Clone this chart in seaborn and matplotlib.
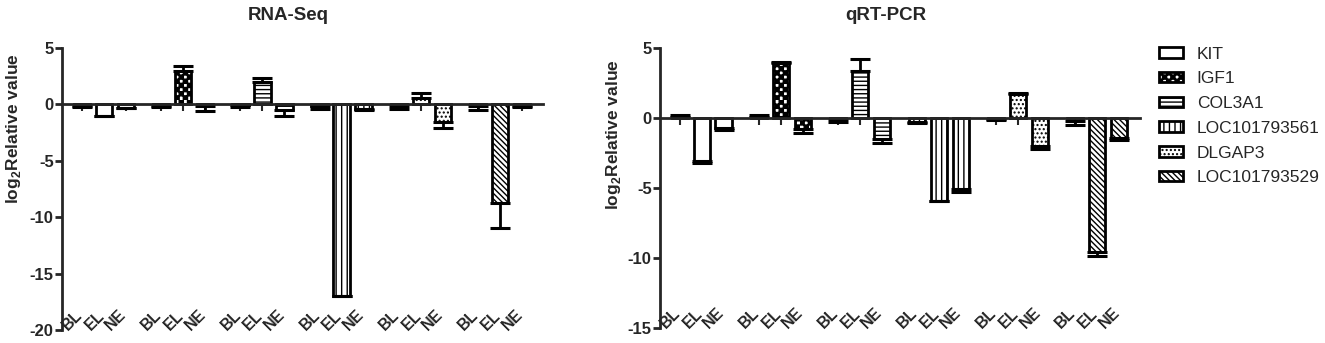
import warnings
import numpy as np
import pandas as pd
import seaborn as sns
import matplotlib.pyplot as plt
import matplotlib.hatch as mhatch
from matplotlib.path import Path
from matplotlib.patches import Patch

warnings.filterwarnings('ignore')

genes = ['KIT', 'IGF1', 'COL3A1', 'LOC101793561', 'DLGAP3', 'LOC101793529']
stages = ['BL', 'EL', 'NE']

# mean log2 relative values per gene (BL, EL, NE)
rnaseq_mean = [[-0.10, -1.00, -0.30],
               [-0.10, 3.00, -0.10],
               [-0.05, 2.00, -0.50],
               [-0.10, -17.00, -0.40],
               [-0.10, 0.60, -1.60],
               [-0.10, -8.70, -0.15]]
rnaseq_err = [[0.15, 0.05, 0.05],
              [0.15, 0.40, 0.45],
              [0.15, 0.35, 0.55],
              [0.35, 0.02, 0.10],
              [0.35, 0.40, 0.50],
              [0.40, 2.30, 0.10]]

qpcr_mean = [[0.10, -3.10, -0.70],
             [0.10, 3.90, -0.80],
             [-0.10, 3.35, -1.50],
             [-0.25, -5.90, -5.05],
             [-0.05, 1.70, -2.00],
             [-0.20, -9.60, -1.40]]
qpcr_err = [[0.08, 0.12, 0.15],
            [0.08, 0.08, 0.25],
            [0.20, 0.85, 0.30],
            [0.10, 0.05, 0.20],
            [0.08, 0.06, 0.20],
            [0.28, 0.25, 0.20]]

# 'c' = checkerboard (custom pattern below)
hatches = ['', 'c', '----', '|||', '....', '\\\\\\\\\\\\']


class Checker(mhatch.HatchPatternBase):
    """Filled checkerboard squares, drawn for hatch strings containing 'c'."""

    def __init__(self, hatch, density):
        self.n = 24 if 'c' in hatch else 0
        self.cells = [(i, j) for i in range(self.n) for j in range(self.n)
                      if (i + j) % 2 == 0]
        self.num_vertices = 5 * len(self.cells)
        self.filled = True

    def set_vertices_and_codes(self, vertices, codes):
        s = 1.0 / self.n
        for k, (i, j) in enumerate(self.cells):
            x0, y0 = i * s, j * s
            vertices[5 * k:5 * k + 5] = [(x0, y0), (x0 + s, y0),
                                         (x0 + s, y0 + s), (x0, y0 + s),
                                         (x0, y0)]
            codes[5 * k:5 * k + 5] = [Path.MOVETO, Path.LINETO, Path.LINETO,
                                      Path.LINETO, Path.CLOSEPOLY]


mhatch._hatch_types.append(Checker)

sns.set_style('ticks')
plt.rcParams['font.family'] = ['Liberation Sans', 'DejaVu Sans']
plt.rcParams['axes.unicode_minus'] = False
plt.rcParams['mathtext.fontset'] = 'custom'
plt.rcParams['mathtext.rm'] = 'Liberation Sans:bold'
plt.rcParams['mathtext.bf'] = 'Liberation Sans:bold'
plt.rcParams['hatch.linewidth'] = 1.0


def make_frame(means, errs):
    rows = []
    for gi, g in enumerate(genes):
        for si, s in enumerate(stages):
            rows.append({'gene': g, 'stage': s, 'pos': gi * 3.6 + si,
                         'value': means[gi][si], 'err': errs[gi][si]})
    return pd.DataFrame(rows)


def draw_panel(ax, df, title, ylim, yticks, label_x, label_y):
    sns.barplot(data=df, x='pos', y='value', hue='gene', hue_order=genes,
                native_scale=True, dodge=False, width=0.75, errorbar=None,
                palette=['white'] * len(genes), edgecolor='black',
                linewidth=2, legend=False, ax=ax)
    for cont, h in zip(ax.containers, hatches):
        for bar in cont:
            bar.set_hatch(h)

    lower = np.where(df['value'] < 0, df['err'], 0)
    upper = np.where(df['value'] >= 0, df['err'], 0)
    ax.errorbar(df['pos'], df['value'], yerr=[lower, upper], fmt='none',
                ecolor='black', elinewidth=2, capsize=7, capthick=2.2)

    ax.set_xlim(-0.9, 20.95)
    ax.set_ylim(*ylim)
    ax.set_yticks(yticks)
    ax.set_yticklabels([str(t) for t in yticks])
    ax.spines['right'].set_visible(False)
    ax.spines['top'].set_visible(False)
    ax.spines['bottom'].set_position(('data', 0))
    ax.spines['bottom'].set_linewidth(2)
    ax.spines['left'].set_linewidth(2)
    ax.set_xticks(df['pos'])
    ax.tick_params(axis='x', direction='out', length=5, width=1.5,
                   labelbottom=False)
    ax.tick_params(axis='y', direction='out', length=5, width=2, pad=1,
                   labelsize=12)
    for t in ax.get_yticklabels():
        t.set_fontweight('bold')
    for p, s in zip(df['pos'], df['stage']):
        ax.text(p + 0.15, -0.01, s, transform=ax.get_xaxis_transform(),
                rotation=45, ha='right', va='bottom', fontsize=11.5,
                fontweight='bold')

    ax.set_xlabel('')
    ax.set_ylabel(r'log$_\mathregular{2}$Relative value', fontsize=12.5,
                  fontweight='bold')
    ax.yaxis.set_label_coords(label_x, label_y)
    ax.set_title(title, fontsize=13.5, fontweight='bold', x=0.47, pad=20)


fig = plt.figure(figsize=(13.25, 3.43), dpi=100)
ax1 = fig.add_axes([62 / 1325, 13 / 343, 481 / 1325, 282 / 343])
ax2 = fig.add_axes([660 / 1325, 15 / 343, 480 / 1325, 280 / 343])

draw_panel(ax1, make_frame(rnaseq_mean, rnaseq_err), 'RNA-Seq',
           (-20, 5), [5, 0, -5, -10, -15, -20], -0.081, 0.713)
draw_panel(ax2, make_frame(qpcr_mean, qpcr_err), 'qRT-PCR',
           (-15, 5), [5, 0, -5, -10, -15], -0.077, 0.69)

handles = [Patch(facecolor='white', edgecolor='black', linewidth=2, hatch=h,
                 label=g) for g, h in zip(genes, hatches)]
fig.legend(handles=handles, loc='upper left',
           bbox_to_anchor=(1143 / 1325, 1 - 31 / 343), frameon=False,
           fontsize=12.5, handlelength=1.4, handleheight=0.55,
           labelspacing=0.56, handletextpad=0.8)

fig.savefig('out.png', dpi=100)
